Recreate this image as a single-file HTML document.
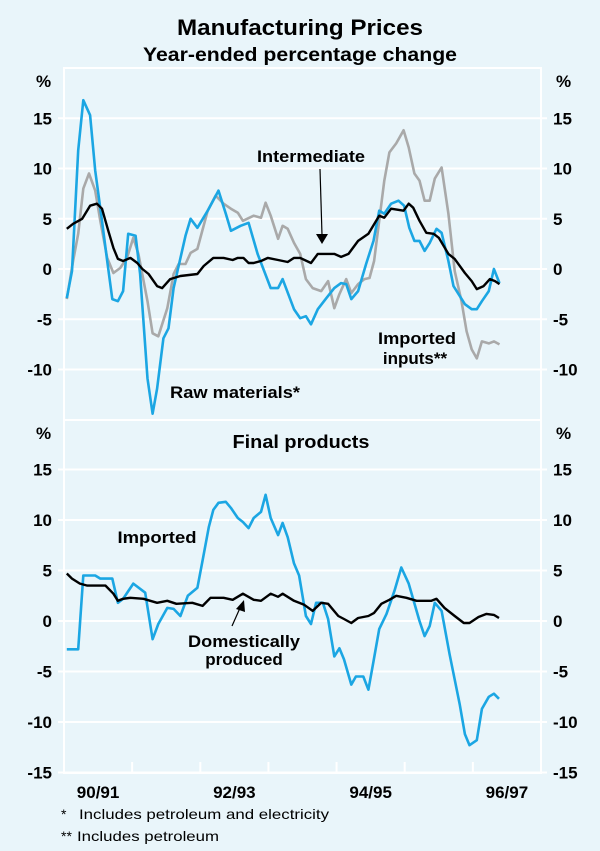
<!DOCTYPE html>
<html><head><meta charset="utf-8"><style>
body{margin:0;background:#e9f5fa;}
svg{display:block;font-family:"Liberation Sans",Arial,sans-serif;}
</style></head><body>
<svg id="chart" width="600" height="851" viewBox="0 0 600 851">
<rect x="0" y="0" width="600" height="851" fill="#e9f5fa"/>
<text x="300" y="35" text-anchor="middle" font-size="22" font-weight="bold" textLength="246" lengthAdjust="spacingAndGlyphs">Manufacturing Prices</text>
<text x="300" y="61" text-anchor="middle" font-size="19" font-weight="bold" textLength="314" lengthAdjust="spacingAndGlyphs">Year-ended percentage change</text>
<g id="grid"></g>
<g id="series"></g>
<g id="labels"></g>
<text x="301" y="448" text-anchor="middle" font-size="18" font-weight="bold" textLength="137" lengthAdjust="spacingAndGlyphs">Final products</text>
<text x="311" y="162" text-anchor="middle" font-size="17" font-weight="bold" textLength="108" lengthAdjust="spacingAndGlyphs">Intermediate</text>
<line x1="320" y1="169" x2="322" y2="235" stroke="#000" stroke-width="1.2"/>
<polygon points="316,234 328,234 322,244" fill="#000"/>
<text x="235" y="398" text-anchor="middle" font-size="17" font-weight="bold" textLength="130" lengthAdjust="spacingAndGlyphs">Raw materials*</text>
<text x="417" y="344" text-anchor="middle" font-size="17" font-weight="bold" textLength="78" lengthAdjust="spacingAndGlyphs">Imported</text>
<text x="415" y="364" text-anchor="middle" font-size="17" font-weight="bold">inputs**</text>
<text x="157" y="543" text-anchor="middle" font-size="17" font-weight="bold" textLength="79" lengthAdjust="spacingAndGlyphs">Imported</text>
<text x="244" y="647" text-anchor="middle" font-size="17" font-weight="bold" textLength="112" lengthAdjust="spacingAndGlyphs">Domestically</text>
<text x="244" y="665" text-anchor="middle" font-size="17" font-weight="bold">produced</text>
<line x1="232" y1="626" x2="240" y2="608" stroke="#000" stroke-width="1.2"/>
<polygon points="236,609 245,612 244,600" fill="#000"/>
<text x="61" y="819" font-size="14">*</text>
<text x="79" y="819" font-size="14" textLength="250" lengthAdjust="spacingAndGlyphs">Includes petroleum and electricity</text>
<text x="61" y="841" font-size="14">**</text>
<text x="77" y="841" font-size="14" textLength="142" lengthAdjust="spacingAndGlyphs">Includes petroleum</text>
</svg>
<script>
// month index since July 1990
var yearLabels=["90/91","92/93","94/95","96/97"];
var yearLabelIdx=[0,2,4,6];
var yTicks=[15,10,5,0,-5,-10];
var yTicksBottom=[15,10,5,0,-5,-10,-15];
var rawM=[0.5,1.4,2.5,3.4,4.6,5.5,6.7,7.6,8.5,9.5,10.4,11.3,12.6,13.4,14.7,15.6,16.4,17.5,18.4,19.3,21.4,22.3,23.5,25.3,27.2,28.5,29.4,31.1,32.5,34.1,36.4,37.7,38.5,40.5,41.6,42.6,43.5,44.7,46.2,47.6,48.8,49.7,50.6,51.8,53.2,54.5,55.5,56.4,57.6,58.9,59.9,60.8,61.7,62.6,63.5,64.4,65.6,66.5,67.7,68.6,69.7,70.6,71.8,72.7,73.6,74.8,75.7,76.7];
var rawV=[-2.9,-0.2,11.8,16.8,15.3,9.8,4.8,0.8,-3,-3.2,-2.2,3.5,3.3,-0.5,-10.9,-14.4,-11.9,-6.9,-5.9,-1.9,3.3,5,4.1,5.8,7.8,5.5,3.8,4.3,4.6,1.5,-1.9,-1.9,-1,-4,-4.9,-4.7,-5.5,-4,-2.9,-1.9,-1.4,-1.5,-3,-2.2,0.5,2.8,5.8,5.5,6.5,6.8,6.3,4.1,2.8,2.8,1.8,2.6,4,3.6,0.8,-1.7,-2.7,-3.5,-4,-4,-3.2,-2.2,0,-1.4];
var impInM=[0.5,1.6,2.5,3.4,4.4,5.5,6.4,7.6,8.7,9.9,11.1,12.2,13.1,14.7,15.6,16.6,18.2,19.3,20.2,21.4,22.3,23.5,25.3,26.7,28.1,29.4,30.6,31.5,33.4,34.7,35.5,36.4,37.7,38.5,39.4,40.5,41.6,42.6,43.8,45.3,46.5,47.6,48.5,49.7,50.6,51.8,52.9,53.8,54.6,55.5,56.4,57.3,58.5,59.8,60.7,61.7,62.6,63.5,64.4,65.3,66.5,67.7,68.8,70,70.9,71.8,72.7,73.6,74.8,75.7,76.7];
var impInV=[-3,0.8,3.5,8,9.5,7.8,4.8,1.1,-0.4,0.1,1.1,3.1,1.5,-3.2,-6.4,-6.7,-3.9,-0.5,0.5,0.5,1.6,2,5.8,7.3,6.5,6,5.6,4.8,5.3,5.1,6.6,5.3,3,4.3,4,2.6,1.5,-1,-1.9,-2.2,-1.2,-3.9,-2.5,-1,-2.4,-1.5,-1,-0.9,0.8,4.8,8.8,11.6,12.5,13.8,12.1,9.5,8.8,6.8,6.8,9,10.1,5.5,-0.2,-3.2,-6.2,-8,-8.9,-7.2,-7.4,-7.2,-7.5];
var interM=[0.5,1.6,3.2,4.6,5.8,6.7,7.8,8.7,9.5,10.4,11.7,12.9,13.8,14.9,16.4,17.3,18.7,20.5,23.5,24.6,26.3,28.1,29.7,30.6,31.6,32.5,33.4,34.7,35.9,37.7,39.4,40.5,41.6,43.5,44.7,46.2,47.6,48.8,50.1,51.8,53.6,55.5,56.4,57.6,59.8,60.7,61.5,62.6,63.8,65.1,66,67.7,68.8,70.6,71.8,72.7,73.9,75,75.9,76.7];
var interV=[4,4.5,5,6.3,6.5,6,3.8,2.1,1,0.8,1.1,0.6,0,-0.5,-1.7,-1.9,-1,-0.7,-0.5,0.3,1.1,1.1,0.9,1.1,1.1,0.6,0.6,0.8,1.1,0.9,0.7,1.1,1.1,0.6,1.5,1.5,1.5,1.2,1.5,2.8,3.5,5.3,5.1,6,5.8,6.5,6.1,4.8,3.6,3.5,3.1,1.5,1,-0.4,-1.2,-2,-1.7,-1,-1.2,-1.5];
var impM=[0.5,2.5,3.4,5.5,6.4,8.5,9.5,10.4,12.2,14.3,15.6,16.6,18.2,19.3,20.5,21.8,23.5,24.4,25.5,26.3,27.2,28.5,29.4,30.6,31.5,32.5,33.4,34.7,35.5,36.4,37.7,38.5,39.4,40.5,41.4,42.6,43.5,44.4,45.6,46.5,47.6,48.5,49.3,50.6,51.4,52.7,53.6,54.5,55.5,56.8,58.2,59.4,60.7,62.6,63.5,64.4,65.3,66.5,67.9,69.7,70.6,71.4,72.7,73.6,74.8,75.7,76.6];
var impV=[-2.8,-2.8,4.5,4.5,4.2,4.2,1.8,2.2,3.7,2.8,-1.8,-0.3,1.3,1.2,0.5,2.5,3.3,6,9.3,11,11.7,11.8,11.2,10.2,9.8,9.2,10.2,10.8,12.5,10.2,8.5,9.7,8.3,5.7,4.5,0.5,-0.3,1.8,1.8,0.2,-3.5,-2.7,-3.8,-6.3,-5.5,-5.5,-6.8,-4,-0.8,0.7,3,5.3,3.7,0,-1.5,-0.5,1.8,1,-3.3,-8.3,-11.2,-12.3,-11.8,-8.7,-7.5,-7.2,-7.7];
var domM=[0.5,1.4,2.8,4.1,5.8,7.3,8.7,9.5,10.4,11.7,14,16.4,18.2,19.8,22.6,24.4,25.8,28.1,29.7,31.5,33.4,34.7,36.4,37.7,38.5,40.5,42.3,43.8,45.3,46.5,48.3,49.3,50.6,51.8,53.6,54.6,55.9,57.3,58.5,60.3,62.1,64.7,65.6,67,68.8,70.4,71.4,73,74.4,75.7,76.6];
var domV=[4.7,4.2,3.7,3.5,3.5,3.5,2.7,2,2.2,2.3,2.2,1.8,2,1.7,1.8,1.5,2.3,2.3,2.1,2.7,2.1,2,2.7,2.4,2.7,2,1.6,1,1.8,1.7,0.5,0.2,-0.2,0.3,0.5,0.8,1.7,2.1,2.5,2.3,2,2,2.2,1.3,0.5,-0.2,-0.2,0.4,0.7,0.6,0.3];

var NS="http://www.w3.org/2000/svg";
var X0=64,X1=541,NM=84;
function xs(m){return X0+m*(X1-X0)/NM;}
function yTop(v){return 269-v*10.05;}
function yBot(v){return 621-v*10.1;}
function mk(t,p,a){var e=document.createElementNS(NS,t);for(var k in a)e.setAttribute(k,a[k]);p.appendChild(e);return e;}
var grid=document.getElementById('grid'),ser=document.getElementById('series'),lab=document.getElementById('labels');

function panel(yf,top,bot,ticks,isTop){
  var r=mk('rect',grid,{x:X0,y:top,width:X1-X0,height:bot-top,fill:'#e9f5fa',stroke:'#fff','stroke-width':2});
  
  
  ticks.forEach(function(t){
    var y=yf(t);
    var l=mk('line',grid,{x1:X0-6,x2:X1+6,y1:y,y2:y,stroke:'#fff','stroke-width':2});
    
    
    var a=mk('text',lab,{x:52,y:y+6,'text-anchor':'end','font-size':17,'font-weight':'bold'});a.textContent=t;
    
    
    var b=mk('text',lab,{x:553,y:y+6,'font-size':17,'font-weight':'bold'});b.textContent=t;
    
    
  });
  var p1=mk('text',lab,{x:36,y:top+19,'font-size':17,'font-weight':'bold'});p1.textContent='%';
  
  
  var p2=mk('text',lab,{x:556,y:top+19,'font-size':17,'font-weight':'bold'});p2.textContent='%';
  
  
}
panel(yTop,68,420,yTicks,true);
panel(yBot,420,773,yTicksBottom,false);
for(var i=1;i<7;i++){
  var tx=xs(i*12);
  var tl=mk('line',grid,{x1:tx,x2:tx,y1:762,y2:773,stroke:'#fff','stroke-width':2});
  
  
}
yearLabels.forEach(function(s,i){
  var t=mk('text',lab,{x:xs(yearLabelIdx[i]*12+6),y:798,'text-anchor':'middle','font-size':17,'font-weight':'bold'});
  t.textContent=s;
  
  
});
function line(ms,vs,yf,col,w,name){
  var d='';for(var i=0;i<ms.length;i++)d+=(i?'L':'M')+xs(ms[i]).toFixed(1)+','+yf(vs[i]).toFixed(1);
  var p=mk('path',ser,{d:d,fill:'none',stroke:col,'stroke-width':w,'stroke-linejoin':'round'});
  
  
}
line(impInM,impInV,yTop,'#a9a9a9',2.6,'imported-inputs-line');
line(rawM,rawV,yTop,'#1ba6e3',2.6,'raw-materials-line');
line(interM,interV,yTop,'#000',2.4,'intermediate-line');
line(impM,impV,yBot,'#1ba6e3',2.6,'imported-line');
line(domM,domV,yBot,'#000',2.4,'domestically-produced-line');
</script>
</body></html>
